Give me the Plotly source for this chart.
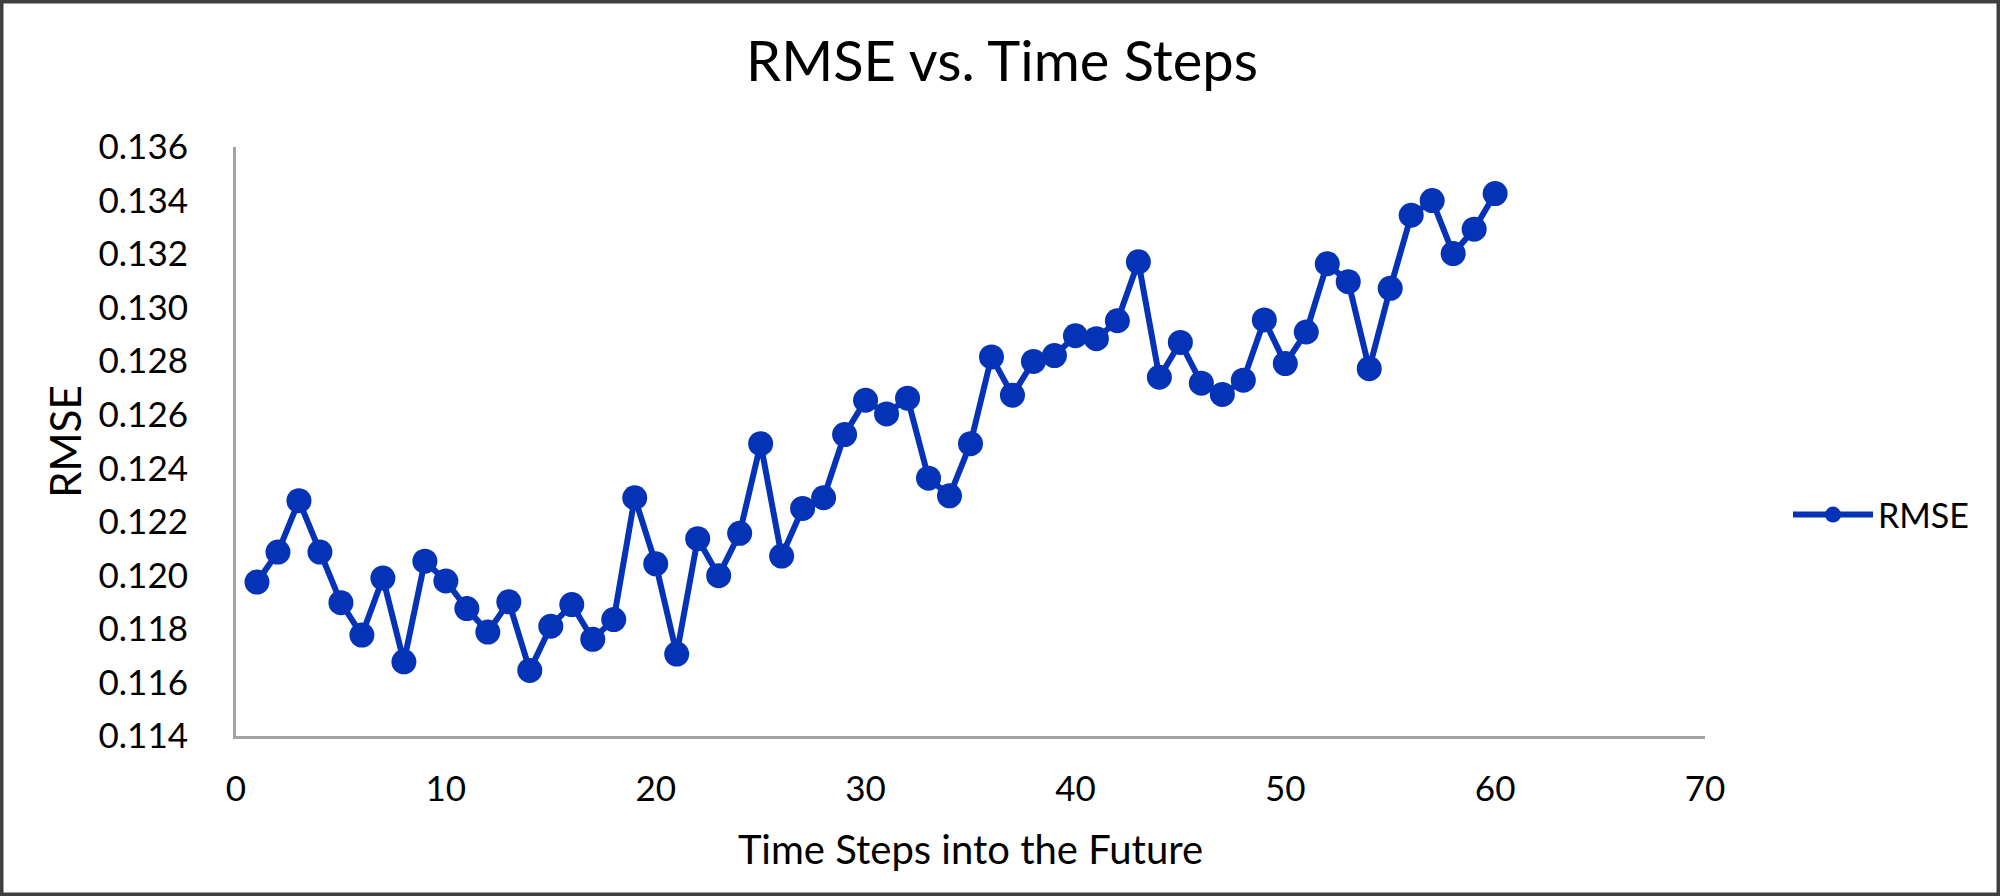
import plotly.graph_objects as go

# Data
time_steps = list(range(1, 61))
rmse = [
    0.11975, 0.12087, 0.12279, 0.12087, 0.11898, 0.11777, 0.11990, 0.11677, 0.12053, 0.11979,
    0.11876, 0.11788, 0.11901, 0.11645, 0.11810, 0.11891, 0.11761, 0.11835, 0.12290, 0.12043,
    0.11706, 0.12137, 0.11999, 0.12157, 0.12492, 0.12072, 0.12250, 0.12290, 0.12526, 0.12654,
    0.12603, 0.12662, 0.12363, 0.12297, 0.12492, 0.12816, 0.12673, 0.12799, 0.12821, 0.12895,
    0.12884, 0.12951, 0.13171, 0.12740, 0.12870, 0.12718, 0.12676, 0.12729, 0.12954, 0.12791,
    0.12909, 0.13164, 0.13097, 0.12772, 0.13072, 0.13345, 0.13400, 0.13202, 0.13293, 0.13426,
]
x_ticks = [0, 10, 20, 30, 40, 50, 60, 70]
y_ticks = [0.114, 0.116, 0.118, 0.120, 0.122, 0.124, 0.126, 0.128, 0.130, 0.132, 0.134, 0.136]
y_tick_labels = [f"{v:.3f}" for v in y_ticks]

W, H = 2000, 896
ML, MR, MT, MB = 236, 295, 147, 160
PW, PH = W - ML - MR, H - MT - MB

def px_to_paper_x(px):
    return (px - ML) / PW

def px_to_paper_y(py):
    return (H - MB - py) / PH

FONT = "Lato, 'Open Sans', sans-serif"
BLUE = "#0533B8"
AXIS = "#A3A3A3"

fig = go.Figure()
fig.add_trace(go.Scatter(
    x=time_steps, y=rmse, mode="lines+markers", name="RMSE",
    line=dict(color=BLUE, width=6),
    marker=dict(color=BLUE, size=25, line=dict(width=0)),
))

fig.update_layout(
    width=W, height=H,
    margin=dict(l=ML, r=MR, t=MT, b=MB),
    paper_bgcolor="white", plot_bgcolor="white",
    font=dict(family=FONT, color="#000000"),
    title=dict(text="RMSE vs. Time Steps", x=1002 / W,
               xanchor="center", y=1 - 61 / H, yanchor="middle",
               font=dict(size=56, family=FONT, color="#000000")),
    showlegend=True,
    legend=dict(x=px_to_paper_x(1788), y=px_to_paper_y(515), xanchor="left", yanchor="middle",
                font=dict(size=34, family=FONT, color="#000000"),
                bgcolor="rgba(0,0,0,0)", itemwidth=80),
    xaxis=dict(range=[0, 70], tickvals=x_ticks, showgrid=False, zeroline=False,
               showline=True, linecolor=AXIS, linewidth=3, ticks="",
               tickfont=dict(size=35, family=FONT, color="#000000"),
               ticklabelstandoff=20,
               title=dict(text="Time Steps into the Future", standoff=29,
                          font=dict(size=40, family=FONT, color="#000000"))),
    yaxis=dict(range=[0.114, 0.136], tickvals=y_ticks, ticktext=y_tick_labels,
               showgrid=False, zeroline=False,
               showline=True, linecolor=AXIS, linewidth=3, ticks="",
               tickfont=dict(size=35, family=FONT, color="#000000"),
               ticklabelstandoff=38,
               title=dict(text="RMSE", standoff=4,
                          font=dict(size=42, family=FONT, color="#000000"))),
    shapes=[dict(type="rect", xref="paper", yref="paper",
                 x0=px_to_paper_x(1.5), x1=px_to_paper_x(1998.5),
                 y0=px_to_paper_y(894.5), y1=px_to_paper_y(1.5),
                 line=dict(color="#404040", width=4), fillcolor="rgba(0,0,0,0)",
                 layer="above")],
)

fig.write_html("out.html", config={"displayModeBar": False},
               post_script="document.body.style.margin='0';document.body.style.overflow='hidden';")
